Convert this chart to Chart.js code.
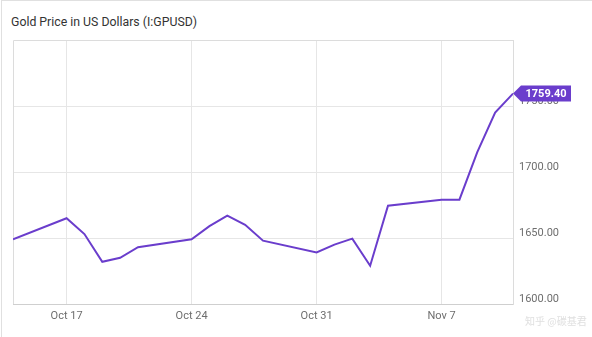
<!DOCTYPE html>
<html lang="en">
<head>
    <meta charset="UTF-8">
    <title>Gold Price in US Dollars</title>
    <script src="https://cdn.jsdelivr.net/npm/chart.js@4/dist/chart.umd.min.js"></script>
    <style>
        html, body { margin: 0; padding: 0; background: #fff; }
        .card {
            position: relative;
            width: 590px;
            height: 336px;
            border-left: 1px solid #e0e0e0;
            border-top: 1px solid #e0e0e0;
            border-right: 1px solid #e0e0e0;
            margin-left: 1px;
            font-family: Roboto, "Noto Sans", sans-serif;
        }
        .title {
            position: absolute;
            left: 9px;
            top: 14px;
            font-size: 12.3px;
            color: #333;
        }
        .mark {
            position: absolute;
            left: 523px;
            top: 312px;
            font-size: 10px;
            color: #e0e0e0;
            white-space: nowrap;
            font-family: "Noto Sans CJK SC", sans-serif;
        }
        canvas { position: absolute; left: -1px; top: -1px; }
    </style>
</head>
<body>
    <div class="card">
        <div class="title">Gold Price in US Dollars (I:GPUSD)</div>
        <canvas id="goldChart" width="592" height="337"></canvas>
        <div class="mark">知乎 @碳基君</div>
    </div>
    <script>
// days counted from Oct 14
var days = [0, 3, 4, 5, 6, 7, 10, 11, 12, 13, 14, 17, 18, 19, 20, 21, 24, 25, 26, 27, 28];
var prices = [1649, 1665, 1653, 1632, 1635, 1643, 1649, 1659, 1667, 1660, 1648,
              1639, 1645, 1649.5, 1629, 1674.5, 1679, 1679, 1715, 1745, 1759.4];
var tickDays = [3, 10, 17, 24];
var tickLabels = ['Oct 17', 'Oct 24', 'Oct 31', 'Nov 7'];
var lastLabel = '1759.40';

var purple = '#6a3dcc';

// flag with the last value on the right axis
var lastValueFlag = {
    id: 'lastValueFlag',
    afterDatasetsDraw: function (chart) {
        var ctx = chart.ctx;
        var meta = chart.getDatasetMeta(0);
        var pt = meta.data[meta.data.length - 1];
        var x = chart.chartArea.right, y = pt.y;
        ctx.save();
        ctx.fillStyle = purple;
        ctx.beginPath();
        ctx.moveTo(x, y);
        ctx.lineTo(x + 8, y - 8);
        ctx.lineTo(x + 58, y - 8);
        ctx.lineTo(x + 58, y + 8);
        ctx.lineTo(x + 8, y + 8);
        ctx.closePath();
        ctx.fill();
        ctx.fillStyle = '#fff';
        ctx.font = 'bold 11px Roboto, sans-serif';
        ctx.textAlign = 'center';
        ctx.textBaseline = 'middle';
        ctx.fillText(lastLabel, x + 33, y + 0.5);
        ctx.restore();
    }
};

var points = days.map(function (d, i) { return { x: d, y: prices[i] }; });

var ctx = document.getElementById('goldChart').getContext('2d');
var goldChart = new Chart(ctx, {
    type: 'line',
    data: {
        datasets: [{
            data: points,
            borderColor: purple,
            borderWidth: 2,
            pointRadius: 0,
            tension: 0,
            fill: false
        }]
    },
    options: {
        responsive: false,
        animation: false,
        layout: { padding: { left: 12, top: 40, right: 0, bottom: 0 } },
        plugins: { legend: { display: false }, tooltip: { enabled: false } },
        scales: {
            x: {
                type: 'linear',
                min: 0,
                max: 28,
                afterBuildTicks: function (axis) {
                    axis.ticks = tickDays.map(function (v) { return { value: v }; });
                },
                afterFit: function (axis) { axis.height = 33; },
                grid: { color: '#e6e6e6', drawTicks: false },
                border: { color: '#cfcfcf' },
                ticks: {
                    padding: 6,
                    color: '#6e6e6e',
                    font: { family: 'Roboto', size: 11 },
                    maxRotation: 0,
                    callback: function (v) { return tickLabels[tickDays.indexOf(v)]; }
                }
            },
            y: {
                position: 'right',
                min: 1600,
                max: 1800,
                afterBuildTicks: function (axis) {
                    axis.ticks = [1600, 1650, 1700, 1750].map(function (v) { return { value: v }; });
                },
                afterFit: function (axis) { axis.width = 80; },
                grid: { color: '#e6e6e6', drawTicks: false },
                border: { color: '#dcdcdc' },
                ticks: {
                    padding: 6,
                    color: '#6e6e6e',
                    labelOffset: -5,
                    font: { family: 'Roboto', size: 11 },
                    callback: function (v) { return v.toFixed(2); }
                }
            }
        }
    },
    plugins: [lastValueFlag, {
        id: 'frame',
        beforeDatasetsDraw: function (chart) {
            var a = chart.chartArea, c = chart.ctx;
            c.save();
            c.strokeStyle = '#dcdcdc';
            c.lineWidth = 1;
            c.beginPath();
            c.moveTo(a.left + 0.5, a.bottom);
            c.lineTo(a.left + 0.5, a.top + 0.5);
            c.lineTo(a.right, a.top + 0.5);
            c.stroke();
            c.restore();
        }
    }]
});
    </script>
</body>
</html>
